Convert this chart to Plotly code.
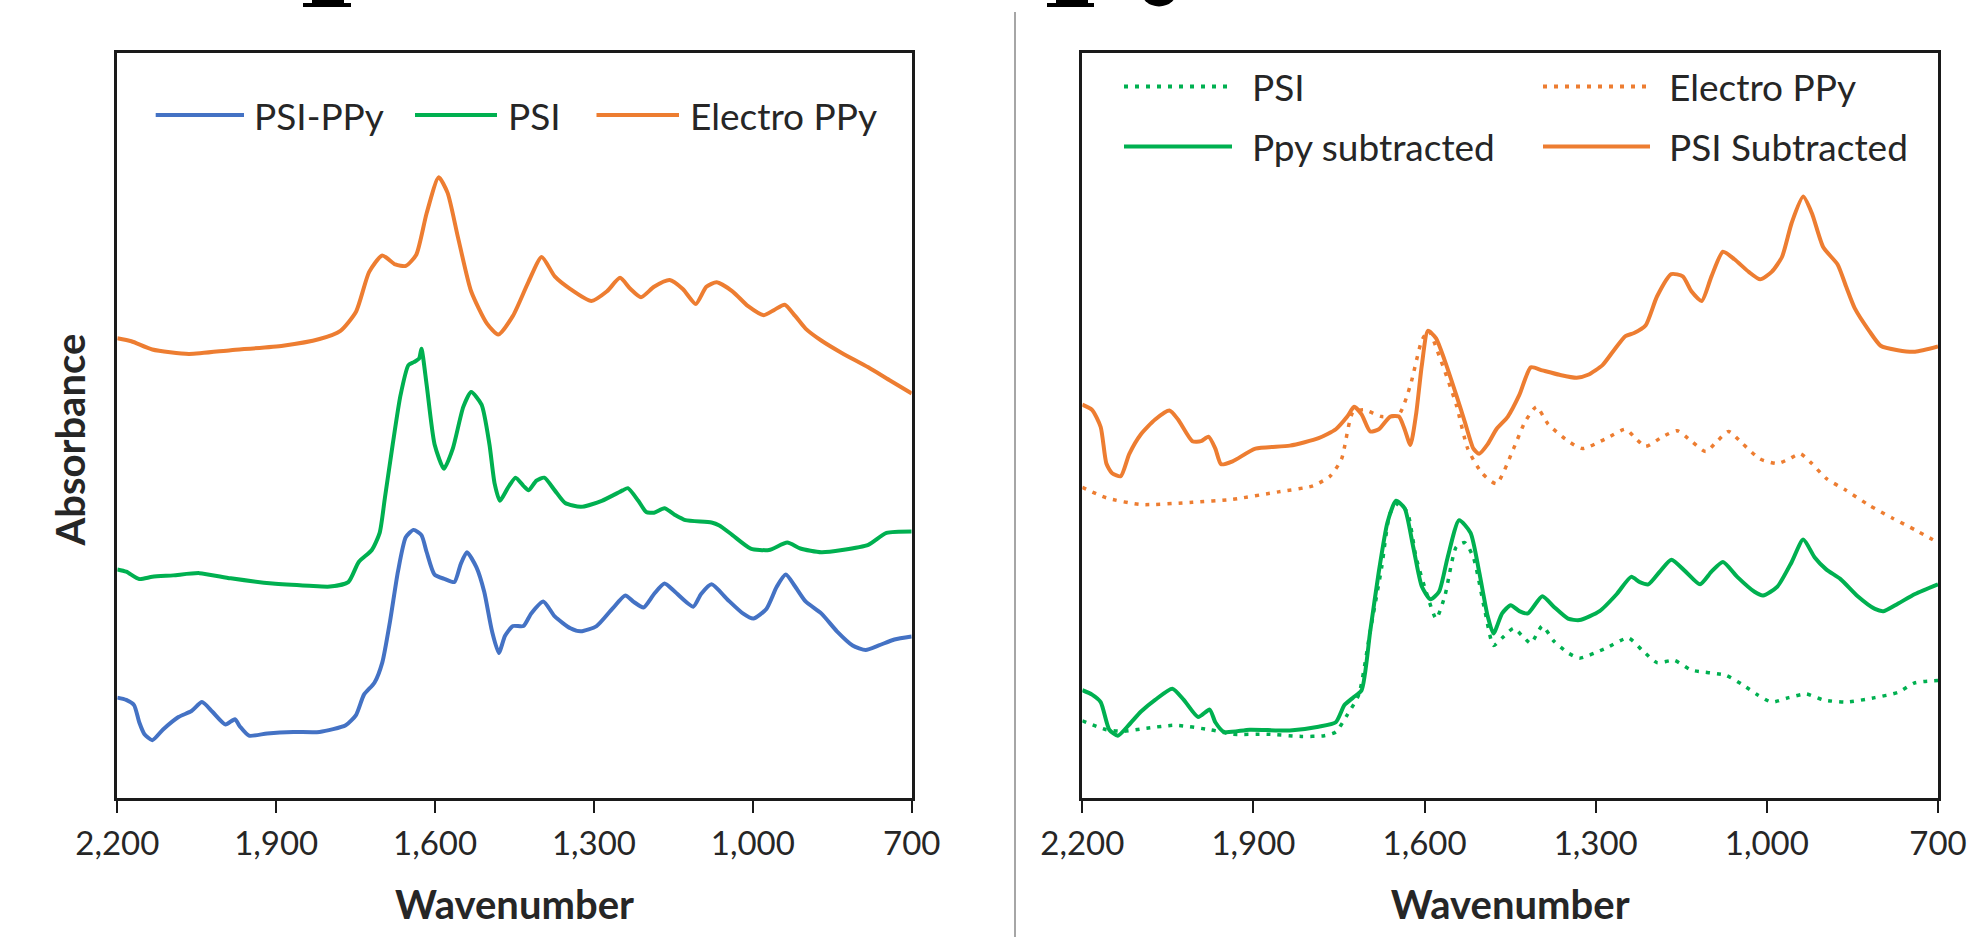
import plotly.graph_objects as go

W, H = 1982, 937

# ---------------- Left panel data ----------------
psippy_wn = [2200, 2183.2, 2168.4, 2158.6, 2148.7, 2133.9, 2114.1, 2084.5, 2059.9, 2040.1, 2020.4, 1995.7,
             1978.0, 1968.1, 1951.3, 1916.8, 1867.4, 1818.1, 1768.7, 1749.0, 1734.2, 1714.5, 1699.7, 1684.9,
             1670.1, 1655.3, 1640.5, 1625.7, 1615.8, 1601.0, 1581.3, 1563.5, 1551.6, 1539.8, 1522.0, 1507.2,
             1492.4, 1479.6, 1467.8, 1453.0, 1433.2, 1418.4, 1395.7, 1374.0, 1344.4, 1324.7, 1295.1, 1265.5,
             1240.8, 1226.0, 1206.3, 1186.5, 1166.8, 1147.1, 1112.5, 1097.7, 1077.9, 1048.4, 1018.8, 999.0,
             974.4, 954.6, 937.8, 920.1, 900.4, 870.8, 841.2, 811.6, 786.9, 762.2, 732.6, 700]
psippy_abs = [0.135, 0.132, 0.125, 0.102, 0.086, 0.078, 0.092, 0.109, 0.117, 0.129, 0.116, 0.099,
              0.106, 0.096, 0.084, 0.087, 0.089, 0.089, 0.098, 0.112, 0.139, 0.155, 0.182, 0.238,
              0.304, 0.350, 0.360, 0.353, 0.330, 0.300, 0.294, 0.290, 0.314, 0.330, 0.310, 0.277,
              0.224, 0.195, 0.218, 0.231, 0.231, 0.248, 0.264, 0.244, 0.228, 0.224, 0.231, 0.254,
              0.272, 0.264, 0.256, 0.274, 0.288, 0.277, 0.257, 0.274, 0.287, 0.267, 0.248, 0.241,
              0.254, 0.284, 0.300, 0.284, 0.264, 0.248, 0.224, 0.205, 0.199, 0.205, 0.213, 0.217]

psi_wn = [2200, 2183.2, 2158.6, 2133.9, 2094.4, 2045.1, 1985.9, 1906.9, 1837.8, 1798.4, 1763.8, 1744.1,
          1719.4, 1704.6, 1694.7, 1679.9, 1665.1, 1650.3, 1640.0, 1630.0, 1625.7, 1615.8, 1601.0, 1583.2,
          1566.5, 1546.7, 1531.9, 1512.2, 1497.4, 1487.5, 1477.6, 1462.8, 1448.0, 1433.2, 1423.4, 1408.6,
          1393.8, 1374.0, 1354.3, 1324.7, 1285.2, 1245.7, 1235.9, 1216.2, 1201.3, 1186.5, 1166.8, 1147.1,
          1127.3, 1078.0, 1063.2, 1038.5, 1004.0, 969.4, 934.9, 910.2, 870.8, 831.3, 782.0, 747.5, 700]
psi_abs = [0.307, 0.304, 0.294, 0.297, 0.299, 0.302, 0.295, 0.288, 0.285, 0.284, 0.290, 0.317,
           0.333, 0.356, 0.403, 0.475, 0.541, 0.581, 0.585, 0.590, 0.603, 0.554, 0.475, 0.442,
           0.469, 0.525, 0.545, 0.528, 0.475, 0.422, 0.399, 0.416, 0.430, 0.419, 0.413, 0.426,
           0.430, 0.413, 0.396, 0.391, 0.399, 0.413, 0.416, 0.399, 0.384, 0.383, 0.389, 0.380,
           0.373, 0.370, 0.366, 0.353, 0.335, 0.333, 0.343, 0.335, 0.330, 0.333, 0.340, 0.356, 0.358]

eppy_wn = [2200, 2173.4, 2133.9, 2064.8, 1985.9, 1887.2, 1818.1, 1778.6, 1749.0, 1724.4, 1699.7, 1675.0,
           1655.3, 1635.5, 1615.8, 1593.1, 1576.3, 1556.6, 1531.9, 1502.3, 1480.6, 1453.0, 1423.4, 1398.7,
           1374.0, 1344.4, 1304.9, 1275.3, 1250.7, 1230.9, 1211.2, 1186.5, 1156.9, 1132.2, 1107.6, 1087.8,
           1068.1, 1038.5, 1008.9, 979.3, 959.6, 939.8, 920.1, 900.4, 870.8, 831.3, 782.0, 742.5, 700]
eppy_abs = [0.617, 0.613, 0.602, 0.596, 0.601, 0.607, 0.616, 0.627, 0.653, 0.706, 0.728, 0.716,
            0.714, 0.729, 0.785, 0.833, 0.812, 0.752, 0.680, 0.637, 0.622, 0.647, 0.693, 0.726,
            0.700, 0.683, 0.667, 0.680, 0.698, 0.683, 0.672, 0.686, 0.695, 0.683, 0.663, 0.686,
            0.692, 0.680, 0.660, 0.648, 0.655, 0.662, 0.647, 0.630, 0.614, 0.597, 0.578, 0.561, 0.543]

# ---------------- Right panel data ----------------
psi_ref_wn = [2200, 2157.8, 2127.6, 2087.4, 2037.1, 1976.8, 1936.6, 1876.3, 1815.9, 1775.7, 1755.6, 1735.5,
              1715.4, 1695.3, 1675.2, 1660.1, 1645.0, 1629.9, 1614.9, 1594.8, 1579.7, 1564.6, 1544.5, 1529.5,
              1514.4, 1494.2, 1479.2, 1464.1, 1444.0, 1428.9, 1413.8, 1393.7, 1373.6, 1348.5, 1328.4, 1283.1,
              1242.9, 1217.8, 1192.6, 1162.5, 1132.3, 1072.0, 1041.8, 1016.7, 991.6, 961.4, 931.3, 901.1,
              860.9, 810.6, 770.4, 740.2, 700]
psi_ref_abs = [0.104, 0.092, 0.090, 0.094, 0.098, 0.092, 0.086, 0.086, 0.083, 0.084, 0.089, 0.112,
               0.139, 0.224, 0.310, 0.383, 0.396, 0.383, 0.323, 0.271, 0.241, 0.271, 0.337, 0.343,
               0.323, 0.251, 0.205, 0.215, 0.228, 0.218, 0.208, 0.231, 0.211, 0.195, 0.188, 0.201,
               0.215, 0.198, 0.182, 0.185, 0.172, 0.165, 0.152, 0.139, 0.129, 0.135, 0.140, 0.132,
               0.129, 0.135, 0.142, 0.155, 0.158]

eppy_ref_wn = [2200, 2157.8, 2097.5, 2007.0, 1936.6, 1856.2, 1795.8, 1765.7, 1745.6, 1725.5, 1705.4, 1675.2,
               1645.0, 1624.9, 1604.8, 1592.8, 1574.7, 1544.5, 1524.4, 1499.3, 1474.1, 1444.0, 1423.9, 1403.8,
               1383.6, 1353.5, 1323.3, 1283.1, 1247.9, 1232.8, 1212.7, 1182.6, 1157.4, 1132.3, 1107.2, 1087.1,
               1067.0, 1041.8, 1011.7, 981.5, 961.4, 941.3, 921.2, 896.0, 860.9, 820.7, 780.4, 740.2, 700]
eppy_ref_abs = [0.417, 0.403, 0.394, 0.397, 0.401, 0.411, 0.419, 0.432, 0.455, 0.518, 0.521, 0.512,
                0.515, 0.554, 0.614, 0.627, 0.594, 0.528, 0.469, 0.436, 0.422, 0.469, 0.505, 0.525,
                0.502, 0.482, 0.469, 0.482, 0.495, 0.485, 0.472, 0.485, 0.493, 0.479, 0.465, 0.479,
                0.492, 0.475, 0.455, 0.449, 0.455, 0.462, 0.449, 0.429, 0.413, 0.393, 0.376, 0.360, 0.343]

ppy_sub_wn = [2200, 2182.9, 2167.8, 2152.7, 2137.7, 2117.6, 2097.5, 2072.3, 2042.2, 2022.1, 1996.9, 1976.8,
              1966.8, 1951.7, 1906.4, 1836.1, 1785.8, 1755.6, 1740.5, 1725.5, 1710.4, 1695.3, 1680.2, 1665.1,
              1650.1, 1635.0, 1619.9, 1604.8, 1589.7, 1574.7, 1559.6, 1539.5, 1519.4, 1504.4, 1489.3, 1479.2,
              1464.1, 1449.0, 1433.9, 1418.8, 1393.7, 1373.6, 1348.5, 1328.4, 1293.2, 1263.0, 1237.9, 1222.8,
              1207.7, 1187.6, 1167.5, 1142.4, 1117.2, 1097.1, 1077.0, 1051.9, 1021.7, 1006.6, 981.5, 956.4,
              936.3, 916.1, 896.0, 870.9, 840.8, 810.6, 795.5, 770.4, 740.2, 700]
ppy_sub_abs = [0.145, 0.139, 0.129, 0.092, 0.084, 0.099, 0.116, 0.132, 0.147, 0.132, 0.109, 0.119,
               0.102, 0.089, 0.092, 0.091, 0.096, 0.102, 0.125, 0.135, 0.145, 0.224, 0.304, 0.370,
               0.399, 0.389, 0.337, 0.284, 0.267, 0.277, 0.323, 0.373, 0.356, 0.304, 0.244, 0.221,
               0.248, 0.259, 0.251, 0.248, 0.271, 0.257, 0.241, 0.239, 0.251, 0.274, 0.297, 0.290,
               0.287, 0.304, 0.320, 0.304, 0.287, 0.304, 0.317, 0.297, 0.277, 0.272, 0.284, 0.317,
               0.347, 0.323, 0.307, 0.294, 0.271, 0.254, 0.251, 0.261, 0.274, 0.287]

psi_sub_wn = [2200, 2182.9, 2167.8, 2157.8, 2147.7, 2132.6, 2117.6, 2097.5, 2072.3, 2047.2, 2032.1, 2007.0,
              1991.9, 1978.8, 1966.8, 1956.7, 1936.6, 1896.4, 1836.1, 1785.8, 1755.6, 1735.5, 1723.5, 1710.4,
              1695.3, 1680.2, 1660.1, 1645.0, 1635.0, 1624.9, 1614.9, 1604.8, 1594.2, 1579.8, 1564.6, 1544.5,
              1529.5, 1514.4, 1504.4, 1489.3, 1474.1, 1454.0, 1433.9, 1413.8, 1393.7, 1363.5, 1333.4, 1313.3,
              1288.1, 1268.0, 1247.9, 1232.8, 1212.7, 1192.6, 1167.5, 1147.4, 1132.3, 1114.2, 1097.1, 1077.0,
              1056.9, 1031.7, 1011.7, 991.6, 973.5, 956.4, 936.3, 921.2, 901.1, 876.0, 860.9, 845.8,
              820.7, 800.5, 770.4, 740.2, 700]
psi_sub_abs = [0.528, 0.521, 0.498, 0.449, 0.436, 0.432, 0.462, 0.488, 0.508, 0.520, 0.508, 0.479,
               0.479, 0.485, 0.469, 0.448, 0.452, 0.469, 0.473, 0.483, 0.495, 0.512, 0.525, 0.515,
               0.492, 0.495, 0.512, 0.512, 0.495, 0.474, 0.515, 0.581, 0.627, 0.617, 0.587, 0.541,
               0.505, 0.469, 0.462, 0.475, 0.495, 0.512, 0.541, 0.578, 0.574, 0.568, 0.564, 0.568,
               0.581, 0.601, 0.620, 0.624, 0.634, 0.673, 0.703, 0.700, 0.680, 0.667, 0.700, 0.733,
               0.723, 0.706, 0.696, 0.706, 0.726, 0.772, 0.807, 0.785, 0.739, 0.716, 0.686, 0.657,
               0.627, 0.607, 0.601, 0.599, 0.606]

tick_vals = [2200, 1900, 1600, 1300, 1000, 700]
tick_text = ["2,200", "1,900", "1,600", "1,300", "1,000", "700"]

BLUE, GREEN, ORANGE = "#4472C4", "#00B050", "#ED7D31"
FONT = "Lato, 'Open Sans', sans-serif"
TXT = "#262626"
LW = 4
DOT = "4px,7px"


def px(x):
    return x / W


def py(y):
    return 1 - y / H


fig = go.Figure()

left_series = [("PSI-PPy", psippy_wn, psippy_abs, BLUE, "solid"),
               ("PSI", psi_wn, psi_abs, GREEN, "solid"),
               ("Electro PPy", eppy_wn, eppy_abs, ORANGE, "solid")]
right_series = [("PSI", psi_ref_wn, psi_ref_abs, GREEN, DOT),
                ("Electro PPy", eppy_ref_wn, eppy_ref_abs, ORANGE, DOT),
                ("Ppy subtracted", ppy_sub_wn, ppy_sub_abs, GREEN, "solid"),
                ("PSI Subtracted", psi_sub_wn, psi_sub_abs, ORANGE, "solid")]

for name, xs, ys, col, dash in left_series:
    fig.add_trace(go.Scatter(x=xs, y=ys, name=name, mode="lines", xaxis="x", yaxis="y",
                             line=dict(color=col, width=LW, dash=dash, shape="spline", smoothing=0.6),
                             showlegend=False))
for name, xs, ys, col, dash in right_series:
    fig.add_trace(go.Scatter(x=xs, y=ys, name=name, mode="lines", xaxis="x2", yaxis="y2",
                             line=dict(color=col, width=LW - 0.5 if dash == DOT else LW, dash=dash,
                                       shape="spline", smoothing=0.6),
                             showlegend=False))

# panel geometry (pixels)
L1, R1, L2, R2, TOP, BOT = 117.3, 911.7, 1082.3, 1938.0, 52.7, 798.3
ydom = [py(BOT), py(TOP)]

xcommon = dict(range=[2200, 700], tickvals=tick_vals, ticktext=tick_text, ticks="outside", ticklen=12,
               tickwidth=2, tickcolor="#1a1a1a", showline=True, linecolor="#1a1a1a", linewidth=2.5,
               mirror=True, showgrid=False, zeroline=False, ticklabelstandoff=2, automargin=False,
               tickfont=dict(family=FONT, size=33, color=TXT),
               title=dict(text="<b>Wavenumber</b>", font=dict(family=FONT, size=40, color=TXT), standoff=31))
ycommon = dict(range=[0, 1], showticklabels=False, ticks="", showline=True, linecolor="#1a1a1a",
               linewidth=2.5, mirror=True, showgrid=False, zeroline=False, automargin=False)

inner = dict(range=[2200, 700], tickvals=tick_vals, ticks="inside", ticklen=12, tickwidth=2,
             tickcolor="#1a1a1a", showticklabels=False, showline=False, showgrid=False, zeroline=False,
             automargin=False)

fig.update_layout(
    width=W, height=H, margin=dict(l=0, r=0, t=0, b=0, autoexpand=False),
    paper_bgcolor="white", plot_bgcolor="white", showlegend=False,
    xaxis=dict(domain=[px(L1), px(R1)], anchor="y", **xcommon),
    yaxis=dict(domain=ydom, anchor="x", **ycommon),
    xaxis2=dict(domain=[px(L2), px(R2)], anchor="y2", **xcommon),
    yaxis2=dict(domain=ydom, anchor="x2", **ycommon),
    xaxis3=dict(overlaying="x", anchor="y", **inner),
    xaxis4=dict(overlaying="x2", anchor="y2", **inner),
)

# y-axis title of the left panel (placed slightly below the panel centre, as in the original)
fig.add_annotation(xref="paper", yref="paper", x=px(69.5), y=py(440), xanchor="center", yanchor="middle",
                   text="<b>Absorbance</b>", textangle=-90, showarrow=False,
                   font=dict(family=FONT, size=40, color=TXT))

# ---- legends (drawn manually to match long line samples) ----
legend_items = [
    # (label, color, dash, x0, x1, text_x, y)
    ("PSI-PPy", BLUE, "solid", 155.7, 244, 252, 115),
    ("PSI", GREEN, "solid", 415, 497, 506, 115),
    ("Electro PPy", ORANGE, "solid", 596.5, 679, 688, 115),
    ("PSI", GREEN, DOT, 1124, 1232, 1250, 86.5),
    ("Electro PPy", ORANGE, DOT, 1543, 1650, 1667, 86.5),
    ("Ppy subtracted", GREEN, "solid", 1124, 1232, 1250, 146.5),
    ("PSI Subtracted", ORANGE, "solid", 1543, 1650, 1667, 146.5),
]
for label, col, dash, x0, x1, tx, yy in legend_items:
    fig.add_shape(type="line", xref="paper", yref="paper", x0=px(x0), x1=px(x1), y0=py(yy), y1=py(yy),
                  line=dict(color=col, width=LW, dash=dash))
    fig.add_annotation(xref="paper", yref="paper", x=px(tx), y=py(yy), xanchor="left", yanchor="middle",
                       text=label, showarrow=False, font=dict(family=FONT, size=37, color=TXT))

# divider between the panels
fig.add_shape(type="line", xref="paper", yref="paper", x0=px(1015), x1=px(1015), y0=0, y1=py(12),
              line=dict(color="#A6A6A6", width=2))

# bottoms of a cropped heading line at the very top edge (decoration only)
for x0, x1, xs0, xs1 in [(303, 351, 312, 344), (1047, 1094, 1056, 1088)]:
    fig.add_shape(type="rect", xref="paper", yref="paper", x0=px(x0), x1=px(x1), y0=py(7), y1=py(3),
                  fillcolor="black", line=dict(width=0))
    fig.add_shape(type="rect", xref="paper", yref="paper", x0=px(xs0), x1=px(xs1), y0=py(3.5), y1=1,
                  fillcolor="black", line=dict(width=0))
fig.add_shape(type="circle", xref="paper", yref="paper", x0=px(1140), x1=px(1178), y0=py(6.5), y1=py(-30),
              fillcolor="black", line=dict(width=0))

fig.write_html("out.html", config={"displayModeBar": False},
               post_script="document.body.style.margin='0';document.body.style.overflow='hidden';")
